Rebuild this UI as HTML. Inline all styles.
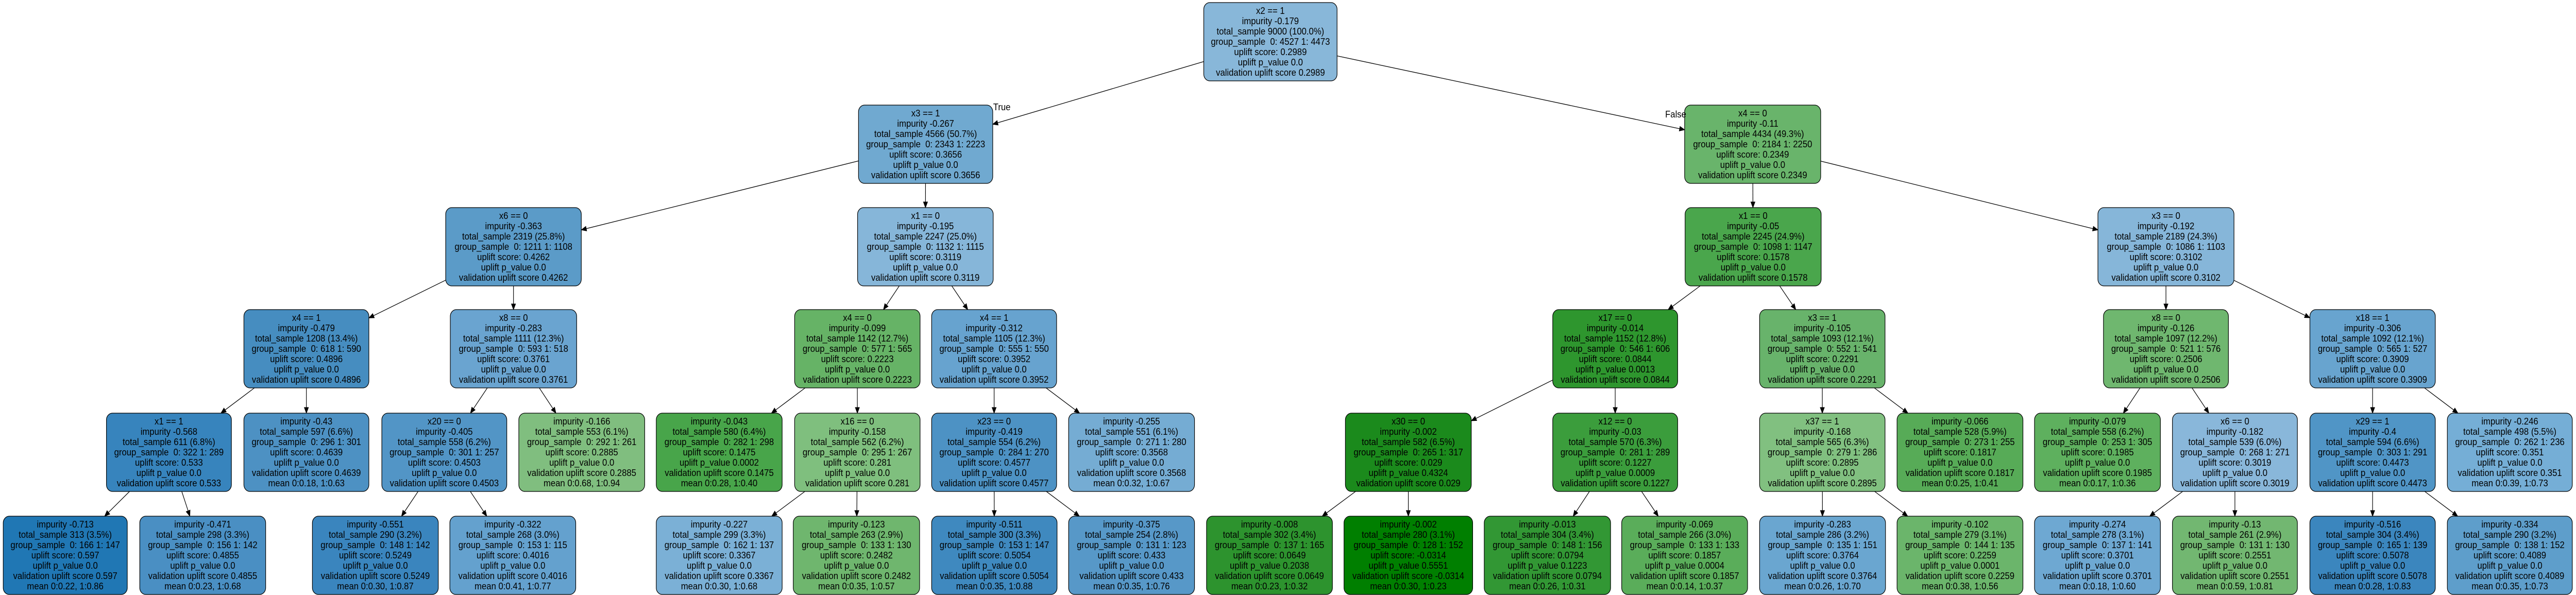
<!DOCTYPE html>
<html><head><meta charset="utf-8">
<style>
html,body{margin:0;padding:0;background:#fff;overflow:hidden;width:100%;height:100%;}
svg{display:block;position:fixed;left:0;top:0;width:100vw;height:100vh;}
svg text{font-family:"Liberation Sans",Arial,sans-serif;font-size:18.6px;fill:#000;}
</style></head>
<body>
<svg id="s" xmlns="http://www.w3.org/2000/svg" viewBox="0 0 5566 1155" preserveAspectRatio="none"></svg>
<script>
var LV=[5,204,403,601,802,1002], H=152;
function I(c,imp,ts,pct,g0,g1,us,pv){return [c,"impurity "+imp,"total_sample "+ts+" ("+pct+")","group_sample  0: "+g0+" 1: "+g1,"uplift score: "+us,"uplift p_value "+pv,"validation uplift score "+us];}
function L(imp,ts,pct,g0,g1,us,pv,m0,m1){return ["impurity "+imp,"total_sample "+ts+" ("+pct+")","group_sample  0: "+g0+" 1: "+g1,"uplift score: "+us,"uplift p_value "+pv,"validation uplift score "+us,"mean 0:"+m0+", 1:"+m1];}
var N=[
[2601,2889,0,"#88b7d9",-1,I("x2 == 1","-0.179","9000","100.0%","4527","4473","0.2989","0.0")],
[1855,2145,1,"#70a9d0",0,I("x3 == 1","-0.267","4566","50.7%","2343","2223","0.3656","0.0")],
[3640,3934,1,"#69b46b",0,I("x4 == 0","-0.11","4434","49.3%","2184","2250","0.2349","0.0")],
[963,1256,2,"#5b9bc8",1,I("x6 == 0","-0.363","2319","25.8%","1211","1108","0.4262","0.0")],
[1853,2146,2,"#86b6d9",1,I("x1 == 0","-0.195","2247","25.0%","1132","1115","0.3119","0.0")],
[3641,3935,2,"#4aa64c",2,I("x1 == 0","-0.05","2245","24.9%","1098","1147","0.1578","0.0")],
[4533,4827,2,"#86b6d9",2,I("x3 == 0","-0.192","2189","24.3%","1086","1103","0.3102","0.0")],
[527,797,3,"#468dc0",3,I("x4 == 1","-0.479","1208","13.4%","618","590","0.4896","0.0")],
[973,1246,3,"#6aa4d0",3,I("x8 == 0","-0.283","1111","12.3%","593","518","0.3761","0.0")],
[1717,1988,3,"#66b366",4,I("x4 == 0","-0.099","1142","12.7%","577","565","0.2223","0.0")],
[2013,2283,3,"#67a3cf",4,I("x4 == 1","-0.312","1105","12.3%","555","550","0.3952","0.0")],
[3355,3625,3,"#2e962e",5,I("x17 == 0","-0.014","1152","12.8%","546","606","0.0844","0.0013")],
[3802,4073,3,"#68b36b",5,I("x3 == 1","-0.105","1093","12.1%","552","541","0.2291","0.0")],
[4545,4815,3,"#6fb76f",6,I("x8 == 0","-0.126","1097","12.2%","521","576","0.2506","0.0")],
[4991,5262,3,"#68a4cf",6,I("x18 == 1","-0.306","1092","12.1%","565","527","0.3909","0.0")],
[230,500,4,"#3784bd",7,I("x1 == 1","-0.568","611","6.8%","322","289","0.533","0.0")],
[527,797,4,"#4d91c3",7,L("-0.43","597","6.6%","296","301","0.4639","0.0","0.18","0.63")],
[825,1095,4,"#5295c6",8,I("x20 == 0","-0.405","558","6.2%","301","257","0.4503","0.0")],
[1121,1393,4,"#80be7f",8,L("-0.166","553","6.1%","292","261","0.2885","0.0","0.68","0.94")],
[1418,1690,4,"#48a54a",9,L("-0.043","580","6.4%","282","298","0.1475","0.0002","0.28","0.40")],
[1717,1988,4,"#7fbf7e",9,I("x16 == 0","-0.158","562","6.2%","295","267","0.281","0.0")],
[2013,2283,4,"#4d92c4",10,I("x23 == 0","-0.419","554","6.2%","284","270","0.4577","0.0")],
[2309,2581,4,"#75acd3",10,L("-0.255","551","6.1%","271","280","0.3568","0.0","0.32","0.67")],
[2907,3179,4,"#1b8a1c",11,I("x30 == 0","-0.002","582","6.5%","265","317","0.029","0.4324")],
[3355,3625,4,"#3b9d3c",11,I("x12 == 0","-0.03","570","6.3%","281","289","0.1227","0.0009")],
[3802,4073,4,"#81c080",12,I("x37 == 1","-0.168","565","6.3%","279","286","0.2895","0.0")],
[4099,4371,4,"#57ab57",12,L("-0.066","528","5.9%","273","255","0.1817","0.0","0.25","0.41")],
[4396,4668,4,"#5eb05e",13,L("-0.079","558","6.2%","253","305","0.1985","0.0","0.17","0.36")],
[4694,4964,4,"#89b7da",13,I("x6 == 0","-0.182","539","6.0%","268","271","0.3019","0.0")],
[4991,5262,4,"#5095c6",14,I("x29 == 1","-0.4","594","6.6%","303","291","0.4473","0.0")],
[5288,5558,4,"#75aed6",14,L("-0.246","498","5.5%","262","236","0.351","0.0","0.39","0.73")],
[7,275,5,"#2077b4",15,L("-0.713","313","3.5%","166","147","0.597","0.0","0.22","0.86")],
[302,574,5,"#4a8fc3",15,L("-0.471","298","3.3%","156","142","0.4855","0.0","0.23","0.68")],
[675,947,5,"#3a85be",17,L("-0.551","290","3.2%","148","142","0.5249","0.0","0.30","0.87")],
[972,1244,5,"#64a1ce",17,L("-0.322","268","3.0%","153","115","0.4016","0.0","0.41","0.77")],
[1418,1690,5,"#7bb0d6",20,L("-0.227","299","3.3%","162","137","0.3367","0.0","0.30","0.68")],
[1714,1987,5,"#6fb66e",20,L("-0.123","263","2.9%","133","130","0.2482","0.0","0.35","0.57")],
[2013,2284,5,"#3f89bf",21,L("-0.511","300","3.3%","153","147","0.5054","0.0","0.35","0.88")],
[2309,2581,5,"#5798c8",21,L("-0.375","254","2.8%","131","123","0.433","0.0","0.35","0.76")],
[2607,2879,5,"#2d932e",23,L("-0.008","302","3.4%","137","165","0.0649","0.2038","0.23","0.32")],
[2904,3182,5,"#007f00",23,L("-0.002","280","3.1%","128","152","-0.0314","0.5551","0.30","0.23")],
[3207,3480,5,"#329734",24,L("-0.013","304","3.4%","148","156","0.0794","0.1223","0.26","0.31")],
[3504,3776,5,"#5aad5a",24,L("-0.069","266","3.0%","133","133","0.1857","0.0004","0.14","0.37")],
[3802,4074,5,"#6aa6d0",25,L("-0.283","286","3.2%","135","151","0.3764","0.0","0.26","0.70")],
[4099,4371,5,"#6bb56b",25,L("-0.102","279","3.1%","144","135","0.2259","0.0001","0.38","0.56")],
[4396,4668,5,"#6ea8d2",28,L("-0.274","278","3.1%","137","141","0.3701","0.0","0.18","0.60")],
[4694,4964,5,"#72b771",28,L("-0.13","261","2.9%","131","130","0.2551","0.0","0.59","0.81")],
[4991,5262,5,"#3b86be",29,L("-0.516","304","3.4%","165","139","0.5078","0.0","0.28","0.83")],
[5288,5558,5,"#5e9ecb",29,L("-0.334","290","3.2%","138","152","0.4089","0.0","0.35","0.73")]
];
var out=[];
function clip(cx,cy,hw,hh,dx,dy){var tx=dx!==0?hw/Math.abs(dx):1e9,ty=dy!==0?hh/Math.abs(dy):1e9;var t=Math.min(tx,ty);return [cx+dx*t,cy+dy*t];}
N.forEach(function(n){
 if(n[4]<0)return;var p=N[n[4]];
 var pcx=(p[0]+p[1])/2,pcy=LV[p[2]]+H/2,ccx=(n[0]+n[1])/2,ccy=LV[n[2]]+H/2;
 var dx=ccx-pcx,dy=ccy-pcy;
 var a=clip(pcx,pcy,(p[1]-p[0])/2,H/2,dx,dy);
 var b=clip(ccx,ccy,(n[1]-n[0])/2,H/2,-dx,-dy);
 var len=Math.sqrt(dx*dx+dy*dy),ux=dx/len,uy=dy/len,al=11,aw=4.5;
 var bx=b[0]-ux*al,by=b[1]-uy*al;
 out.push('<line x1="'+a[0]+'" y1="'+a[1]+'" x2="'+bx+'" y2="'+by+'" stroke="#000" stroke-width="1.3"/>');
 out.push('<polygon points="'+b[0]+','+b[1]+' '+(bx-uy*aw)+','+(by+ux*aw)+' '+(bx+uy*aw)+','+(by-ux*aw)+'" fill="#000" stroke="#000" stroke-width="1"/>');
});
N.forEach(function(n){
 var x=n[0],w=n[1]-n[0],y=LV[n[2]],cx=x+w/2;
 out.push('<rect x="'+x+'" y="'+y+'" width="'+w+'" height="'+H+'" rx="13" ry="13" fill="'+n[3]+'" stroke="#000" stroke-width="1.3"/>');
 n[5].forEach(function(t,i){
  out.push('<text x="'+cx+'" y="'+(y+22+20*i)+'" text-anchor="middle" xml:space="preserve">'+t+'</text>');
 });
});
out.push('<text x="2146" y="214">True</text>');
out.push('<text x="3598" y="228">False</text>');
document.getElementById('s').innerHTML=out.join('');
</script>
</body></html>
